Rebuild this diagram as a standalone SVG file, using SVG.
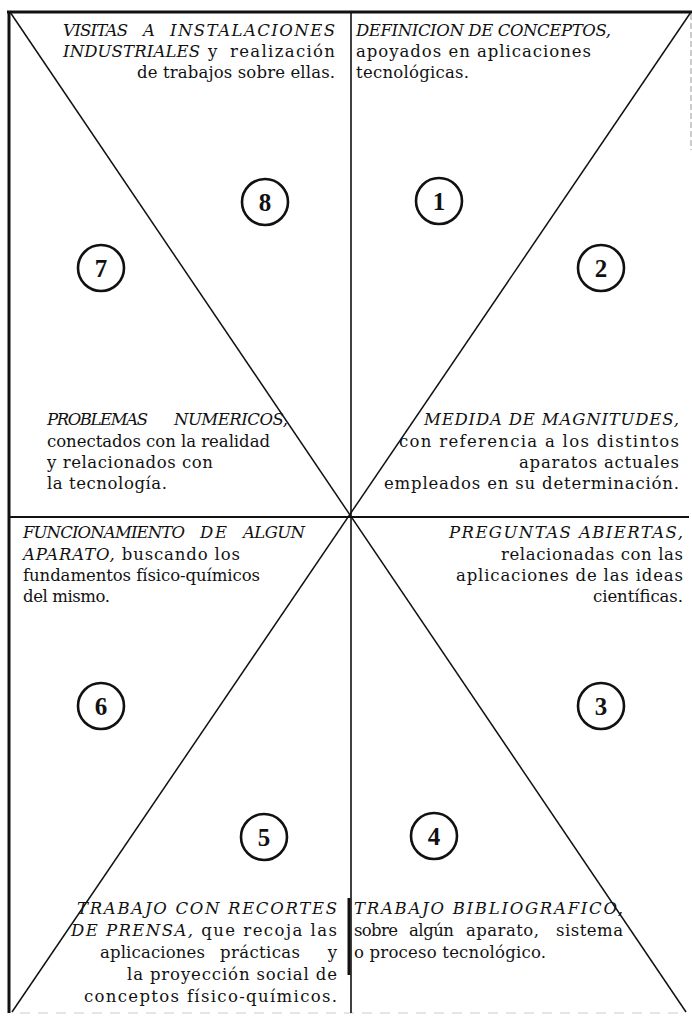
<svg xmlns="http://www.w3.org/2000/svg" width="692" height="1016" viewBox="0 0 692 1016">
<style>
.t{font-family:"DejaVu Serif","Liberation Serif",serif;font-size:16.5px;fill:#111}
.i{font-style:italic}
.e{text-anchor:end}
.n{font-family:"Liberation Serif","Times New Roman",serif;font-size:25px;font-weight:bold;fill:#111;text-anchor:middle}
.c{fill:none;stroke:#111;stroke-width:2.6}
.ln{stroke:#111;fill:none}
</style>
<rect width="692" height="1016" fill="#fff"/>
<g id="connectors">
<line class="ln" x1="7" y1="12" x2="692" y2="12" stroke-width="3"/>
<line class="ln" x1="9" y1="11" x2="9" y2="1013" stroke-width="3"/>
<line x1="691" y1="14" x2="691" y2="150" stroke="#999" stroke-width="1" stroke-dasharray="6 3"/>
<line x1="20" y1="1013" x2="686" y2="1013" stroke="#ddd" stroke-width="1.5" stroke-dasharray="10 8"/>
<line class="ln" x1="351" y1="12" x2="351" y2="1013" stroke-width="1.6"/>
<line class="ln" x1="9" y1="517" x2="689" y2="517" stroke-width="2"/>
<line class="ln" x1="10" y1="12" x2="686" y2="1012" stroke-width="1.5"/>
<line class="ln" x1="691" y1="12" x2="12" y2="1012" stroke-width="1.5"/>
<line class="ln" x1="349" y1="898" x2="349" y2="975" stroke-width="3"/>
</g>
<g id="n8"><circle class="c" cx="265" cy="202" r="23"/><text class="n" x="265" y="211">8</text></g>
<g id="n1"><circle class="c" cx="439" cy="201" r="23"/><text class="n" x="439" y="210">1</text></g>
<g id="n7"><circle class="c" cx="101" cy="268" r="23"/><text class="n" x="101" y="277">7</text></g>
<g id="n2"><circle class="c" cx="601" cy="268" r="23"/><text class="n" x="601" y="277">2</text></g>
<g id="n6"><circle class="c" cx="101" cy="706" r="23"/><text class="n" x="101" y="715">6</text></g>
<g id="n3"><circle class="c" cx="601" cy="706" r="23"/><text class="n" x="601" y="715">3</text></g>
<g id="n5"><circle class="c" cx="264" cy="837" r="23"/><text class="n" x="264" y="846">5</text></g>
<g id="n4"><circle class="c" cx="434" cy="836" r="23"/><text class="n" x="434" y="845">4</text></g>
<g id="text8">
<text class="t i" x="63" y="36" textLength="65">VISITAS</text>
<text class="t i" x="143" y="36">A</text>
<text class="t i" x="170" y="36" textLength="165">INSTALACIONES</text>
<text class="t i" x="63" y="57" textLength="137">INDUSTRIALES</text>
<text class="t" x="208" y="57">y</text>
<text class="t" x="230" y="57" textLength="105">realización</text>
<text class="t" x="137" y="78" textLength="198">de trabajos sobre ellas.</text>
</g>
<g id="text1">
<text class="t i" x="356" y="36" textLength="255">DEFINICION DE CONCEPTOS,</text>
<text class="t" x="356" y="57" textLength="235">apoyados en aplicaciones</text>
<text class="t" x="356" y="78" textLength="113">tecnológicas.</text>
</g>
<g id="text7">
<text class="t i" x="47" y="425" textLength="101">PROBLEMAS</text>
<text class="t i" x="174" y="425" textLength="114">NUMERICOS,</text>
<text class="t" x="47" y="447" textLength="223">conectados con la realidad</text>
<text class="t" x="47" y="468" textLength="166">y relacionados con</text>
<text class="t" x="47" y="489" textLength="120">la tecnología.</text>
</g>
<g id="text2">
<text class="t i" x="424" y="425" textLength="255">MEDIDA DE MAGNITUDES,</text>
<text class="t" x="399" y="447" textLength="280">con referencia a los distintos</text>
<text class="t" x="519" y="468" textLength="160">aparatos actuales</text>
<text class="t" x="384" y="489" textLength="295">empleados en su determinación.</text>
</g>
<g id="text6">
<text class="t i" x="23" y="538" textLength="162">FUNCIONAMIENTO</text>
<text class="t i" x="200" y="538" textLength="27">DE</text>
<text class="t i" x="243" y="538" textLength="62">ALGUN</text>
<text class="t" x="23" y="560" textLength="217"><tspan class="i">APARATO,</tspan> buscando los</text>
<text class="t" x="23" y="581" textLength="237">fundamentos físico-químicos</text>
<text class="t" x="23" y="602" textLength="87">del mismo.</text>
</g>
<g id="text3">
<text class="t i" x="449" y="538" textLength="234">PREGUNTAS ABIERTAS,</text>
<text class="t" x="501" y="560" textLength="182">relacionadas con las</text>
<text class="t" x="456" y="581" textLength="227">aplicaciones de las ideas</text>
<text class="t" x="593" y="602" textLength="90">científicas.</text>
</g>
<g id="text5">
<text class="t i" x="77" y="914" textLength="260">TRABAJO CON RECORTES</text>
<text class="t" x="71" y="936" textLength="266"><tspan class="i">DE PRENSA,</tspan> que recoja las</text>
<text class="t" x="100" y="958" textLength="105">aplicaciones</text>
<text class="t" x="220" y="958" textLength="80">prácticas</text>
<text class="t e" x="337" y="958">y</text>
<text class="t" x="127" y="980" textLength="210">la proyección social de</text>
<text class="t" x="84" y="1002" textLength="253">conceptos físico-químicos.</text>
</g>
<g id="text4">
<text class="t i" x="354" y="914" textLength="269">TRABAJO BIBLIOGRAFICO,</text>
<text class="t" x="354" y="936" textLength="44">sobre</text>
<text class="t" x="409" y="936" textLength="45">algún</text>
<text class="t" x="466" y="936" textLength="73">aparato,</text>
<text class="t" x="556" y="936" textLength="67">sistema</text>
<text class="t" x="354" y="958" textLength="192">o proceso tecnológico.</text>
</g>
</svg>
